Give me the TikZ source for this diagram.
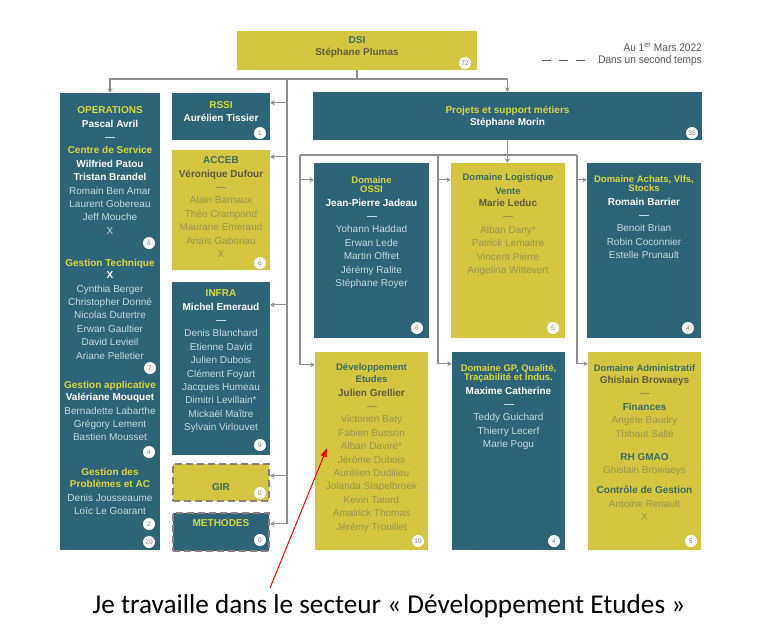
\documentclass[tikz,border=0pt]{standalone}
\usepackage{fontspec}
\setmainfont{Liberation Sans}
\newfontfamily\capfont{Carlito}
\newfontfamily\condfont{Liberation Sans}[FakeStretch=0.92]
\usetikzlibrary{arrows.meta}

\definecolor{tealbg}{HTML}{2D6477}
\definecolor{yelbg}{HTML}{D5C642}
\definecolor{tealtitle}{HTML}{D7D83E}
\definecolor{tealmem}{HTML}{C8DAE0}
\definecolor{yeltitle}{HTML}{3C6C5B}
\definecolor{yelmgr}{HTML}{5E5B3C}
\definecolor{yelmem}{HTML}{9A944E}
\definecolor{numc}{HTML}{7A7A7A}
\definecolor{linec}{HTML}{8E8E8E}
\definecolor{dashc}{HTML}{8B7F7F}
\definecolor{legc}{HTML}{555555}

% text helpers for the two kinds of boxes
\newcommand{\tT}[1]{{\bfseries\color{tealtitle}#1}}
\newcommand{\tM}[1]{{\bfseries\color{white}#1}}
\newcommand{\yT}[1]{{\bfseries\color{yeltitle}#1}}
\newcommand{\yM}[1]{{\bfseries\color{yelmgr}#1}}
\newcommand{\sepline}{\rule[3pt]{10pt}{1pt}}
\newcommand{\fl}{\rule{0pt}{9pt}}
\newcommand{\dt}{\fontsize{9.5}{13.4}\selectfont}

\tikzset{
  tealbox/.style={fill=tealbg, draw=none, inner sep=0, rectangle},
  yelbox/.style={fill=yelbg, draw=none, inner sep=0, rectangle},
  laterbox/.style={draw=dashc, line width=2.4pt, dash pattern=on 7pt off 4pt},
  ttext/.style={text=tealmem, align=center, inner sep=0, anchor=north, font=\fontsize{10}{13.4}\selectfont},
  ytext/.style={text=yelmem, align=center, inner sep=0, anchor=north, font=\fontsize{10}{13.4}\selectfont},
  num/.style={circle, fill=white, inner sep=0, minimum size=12pt, text=numc, font=\fontsize{6.5}{7}\selectfont},
  conn/.style={draw=linec, line width=1.3pt},
  arr/.style={conn, -{Stealth[length=4.5pt,width=5pt]}},
  legtext/.style={anchor=east, inner sep=0, text=legc, font=\condfont\fontsize{11}{12}\selectfont},
}

\begin{document}
\begin{tikzpicture}[x=1pt,y=-1pt]
\useasboundingbox[fill=white] (0,0) rectangle (782,633);

% ---------- boxes ----------
\node[yelbox, minimum width=240pt, minimum height=39pt] (dsi) at (357,50.5) {};
\node[tealbox, minimum width=100pt, minimum height=457pt] (ops) at (110,321.5) {};
\node[tealbox, minimum width=98pt, minimum height=47pt] (rssi) at (221,116.5) {};
\node[yelbox, minimum width=98pt, minimum height=120pt] (acceb) at (221,210) {};
\node[tealbox, minimum width=98pt, minimum height=173pt] (infra) at (221,368.5) {};
\node[yelbox, laterbox, minimum width=96pt, minimum height=37pt] (gir) at (221,482.5) {};
\node[tealbox, laterbox, minimum width=96pt, minimum height=38pt] (meth) at (221,532) {};
\node[tealbox, minimum width=389pt, minimum height=48pt] (psm) at (507.5,116) {};
\node[tealbox, minimum width=115pt, minimum height=175pt] (ossi) at (371.5,250.5) {};
\node[yelbox, minimum width=114pt, minimum height=175pt] (logi) at (508,250.5) {};
\node[tealbox, minimum width=114pt, minimum height=175pt] (achats) at (644,250.5) {};
\node[yelbox, minimum width=113pt, minimum height=198pt] (dev) at (371.5,451) {};
\node[tealbox, minimum width=113pt, minimum height=198pt] (gp) at (508.5,451) {};
\node[yelbox, minimum width=113pt, minimum height=198pt] (adm) at (644.5,451) {};

% ---------- box texts ----------
\node[ytext] (dsi-t) at (357,34.5) {\fl\yT{DSI}\\[-1.4pt]\yM{Stéphane Plumas}};

\node[ttext] (ops-a) at (110,104.5) {\fl\tT{OPERATIONS}\\\tM{Pascal Avril}\\\sepline\\\tT{Centre de Service}\\\tM{Wilfried Patou}\\\tM{Tristan Brandel}\\Romain Ben Amar\\Laurent Gobereau\\Jeff Mouche\\X};
\node[ttext] (ops-b) at (110,257.5) {\fl\tT{Gestion Technique}\\[-1.4pt]\tM{X}\\Cynthia Berger\\Christopher Donné\\Nicolas Dutertre\\Erwan Gaultier\\David Levieil\\Ariane Pelletier};
\node[ttext] (ops-c) at (110,379.5) {\fl\tT{Gestion applicative}\\[-1.4pt]\tM{Valériane Mouquet}\\Bernadette Labarthe\\Grégory Lement\\Bastien Mousset};
\node[ttext] (ops-d) at (110,466.5) {\fl\tT{Gestion des}\\[-1.4pt]\tT{Problèmes et AC}\\Denis Jousseaume\\Loïc Le Goarant};

\node[ttext] (rssi-t) at (221,99.5) {\fl\tT{RSSI}\\[-0.4pt]\tM{Aurélien Tissier}};
\node[ytext] (acceb-t) at (221,154.5) {\fl\yT{ACCEB}\\\yM{Véronique Dufour}\\\sepline\\Alain Barnaux\\Théo Crampond\\Maurane Emeraud\\Anaïs Gaboriau\\X};
\node[ttext] (infra-t) at (221,287.5) {\fl\tT{INFRA}\\\tM{Michel Emeraud}\\\sepline\\Denis Blanchard\\Etienne David\\Julien Dubois\\Clément Foyart\\Jacques Humeau\\Dimitri Levillain*\\Mickaël Maître\\Sylvain Virlouvet};
\node[ytext] (gir-t) at (221,481.5) {\fl\yT{GIR}};
\node[ttext] (meth-t) at (221,517.5) {\fl\tT{METHODES}};

\node[ttext] (psm-t) at (507.5,104.5) {\fl\tT{Projets et support métiers}\\[-1.4pt]\tM{Stéphane Morin}};

\node[ttext] (ossi-t) at (371.5,174.5) {\fl{\dt\tT{Domaine}}\\[-4.4pt]{\dt\tT{OSSI}}\\\tM{Jean-Pierre Jadeau}\\\sepline\\Yohann Haddad\\Erwan Lede\\Martin Offret\\Jérémy Ralite\\Stéphane Royer};
\node[ytext] (logi-t) at (508,171.5) {\fl{\dt\yT{Domaine Logistique}}\\[0.6pt]{\dt\yT{Vente}}\\[-1.4pt]\yM{Marie Leduc}\\\sepline\\Alban Dany*\\Patrick Lemaitre\\Vincent Pierre\\Angelina Wittevert};
\node[ttext] (achats-t) at (644,173.5) {\fl{\dt\tT{Domaine Achats, Vlfs,}}\\[-4.4pt]{\dt\tT{Stocks}}\\\tM{Romain Barrier}\\\sepline\\Benoit Brian\\Robin Coconnier\\Estelle Prunault};

\node[ytext] (dev-t) at (371.5,361.5) {\fl{\dt\yT{Développement}}\\[-1.4pt]{\dt\yT{Etudes}}\\\yM{Julien Grellier}\\\sepline\\Victorien Baty\\Fabien Busson\\Alban Daviré*\\Jérôme Dubois\\Aurélien Dudilieu\\Jolanda Stapelbroek\\Kevin Tatard\\Amalrick Thomas\\Jérémy Trouillet};
\node[ttext] (gp-t) at (508.5,362.5) {\fl{\dt\tT{Domaine GP, Qualité,}}\\[-4.4pt]{\dt\tT{Traçabilité et Indus.}}\\\tM{Maxime Catherine}\\\sepline\\Teddy Guichard\\Thierry Lecerf\\Marie Pogu};
\node[ytext] (adm-t) at (644.5,362.5) {\fl{\dt\yT{Domaine Administratif}}\\[-1.4pt]\yM{Ghislain Browaeys}\\\sepline\\\yT{Finances}\\Angèle Baudry\\Thibaut Sallé\\[9.6pt]\yT{RH GMAO}\\Ghislain Browaeys\\[6.6pt]\yT{Contrôle de Gestion}\\Antoine Renault\\X};

% ---------- head counts ----------
\node[num] (n-dsi) at (465,63) {72};
\node[num] (n-ops1) at (149,243) {6};
\node[num] (n-ops2) at (150,368) {7};
\node[num] (n-ops3) at (149,452) {4};
\node[num] (n-ops4) at (149,524) {2};
\node[num] (n-ops5) at (149,542) {20};
\node[num] (n-rssi) at (260,133) {1};
\node[num] (n-acceb) at (260,263) {6};
\node[num] (n-infra) at (260,445) {9};
\node[num] (n-gir) at (260,493) {0};
\node[num] (n-meth) at (260,540) {0};
\node[num] (n-psm) at (692,133) {35};
\node[num] (n-ossi) at (417,328) {6};
\node[num] (n-logi) at (553,328) {5};
\node[num] (n-achats) at (688,328) {4};
\node[num] (n-dev) at (418,541) {10};
\node[num] (n-gp) at (554,541) {4};
\node[num] (n-adm) at (691,541) {5};

% ---------- connectors ----------
\coordinate (j1) at (357,79);
\coordinate (s1) at (287,79);
\draw[conn] (dsi.south) -- (j1);
\draw[arr] (j1) -| (ops.north);
\draw[arr] (j1) -| (psm.north);
\draw[arr] (s1) |- ([yshift=-10pt]rssi.north east);
\draw[arr] (s1) |- ([yshift=-7pt]acceb.north east);
\draw[arr] (s1) |- ([yshift=-23pt]infra.north east);
\draw[arr] (s1) |- ([yshift=-13pt]gir.north east);
\draw[arr] (s1) |- ([yshift=-12pt]meth.north east);

\coordinate (b1) at (300,155);
\coordinate (b2) at (438,155);
\coordinate (b3) at (577,155);
\draw[conn] (b1) -- (b3);
\draw[arr] (psm.south) -- (psm.south |- logi.north);
\draw[arr] (b1) |- ([yshift=-17pt]ossi.north west);
\draw[arr] (b1) |- ([yshift=-13pt]dev.north west);
\draw[arr] (b2) |- ([yshift=-17pt]logi.north west);
\draw[arr] (b2) |- ([yshift=-12pt]gp.north west);
\draw[arr] (b3) |- ([yshift=-17pt]achats.north west);
\draw[arr] (b3) |- ([yshift=-12pt]adm.north west);

% ---------- legend ----------
\node[legtext] (leg-date) at (702,47.5) {Au 1\textsuperscript{er} Mars 2022};
\node[legtext] (leg-later) at (702,60.5) {Dans un second temps};
\coordinate (leg-a) at (542,60.5);
\coordinate (leg-b) at (585,60.5);
\draw[draw=legc, line width=1.3pt, dash pattern=on 9pt off 8pt] (leg-a) -- (leg-b);

% ---------- pointer and caption ----------
\coordinate (ptail) at (270,588);
\coordinate (phead) at (327,448);
\draw[red, line width=1pt, -{Triangle[length=9pt,width=6pt]}] (ptail) -- (phead);
\node[font=\capfont\fontsize{27.2}{30}\selectfont, inner sep=0] (caption) at (389,606) {Je travaille dans le secteur «~Développement Etudes~»};
\end{tikzpicture}
\end{document}
